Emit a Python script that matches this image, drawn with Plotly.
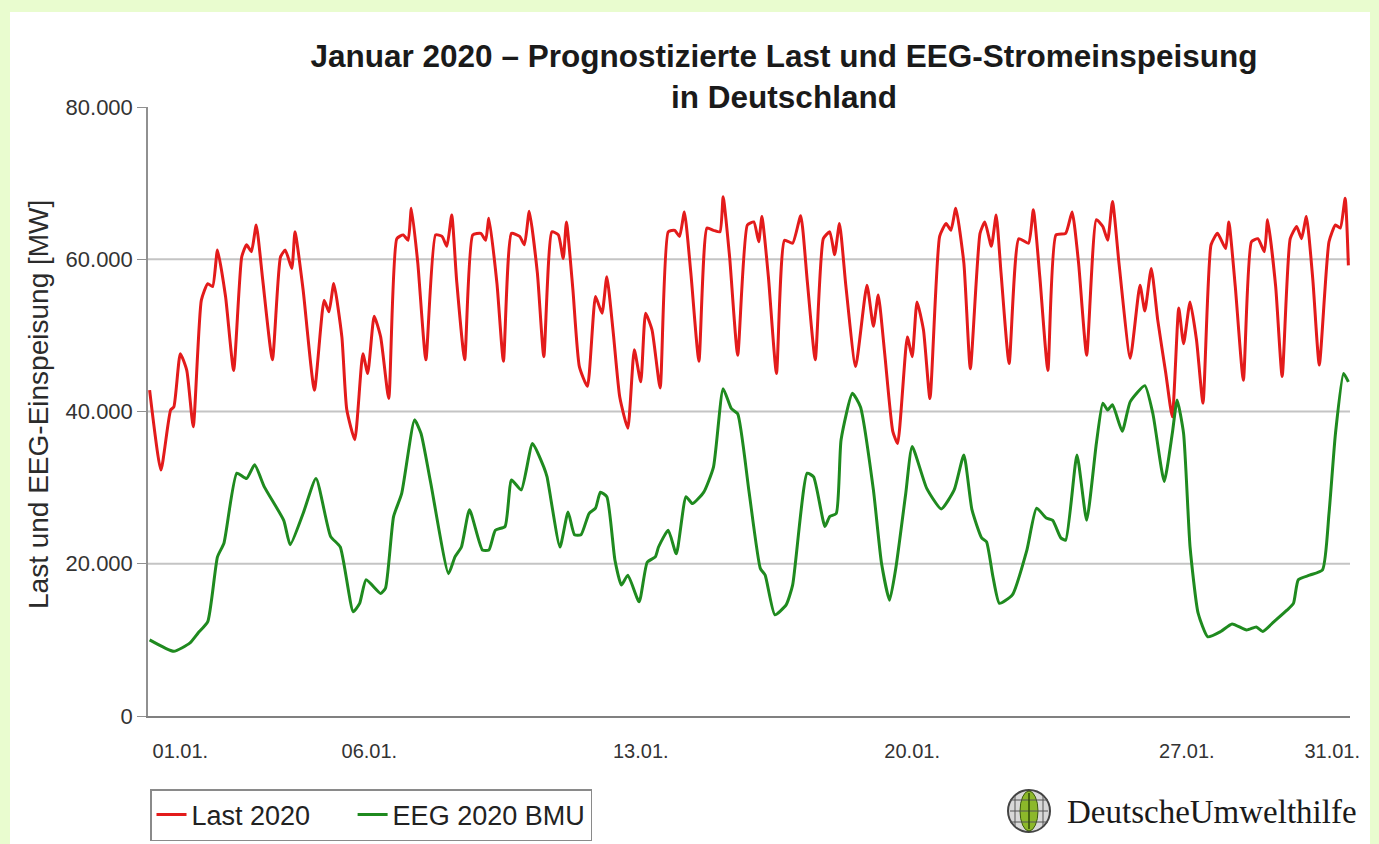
import plotly.graph_objects as go

# ---- data (hours since 01.01. 00:00, values in MW) ----
last_hours = [1, 8, 14, 16, 20, 24, 28, 33, 37, 40, 43, 48, 53, 58, 61, 64, 67, 71, 77, 82, 85, 89, 91, 96,
              103, 109, 112, 115, 120, 123, 128, 133, 136, 140, 144, 149, 154, 158, 161, 163, 167, 172,
              178, 182, 185, 188, 191, 196, 201, 206, 209, 211, 216, 220, 225, 230, 233, 236, 241, 245,
              250, 254, 257, 259, 263, 267, 272, 277, 281, 284, 288, 292, 297, 301, 305, 308, 312, 317,
              322, 326, 329, 332, 336, 341, 346, 350, 354, 356, 360, 365, 371, 375, 378, 380, 384, 389,
              394, 399, 404, 408, 413, 418, 422, 425, 428, 432, 438, 445, 449, 452, 456, 461, 464, 470,
              473, 476, 480, 484, 490, 494, 497, 500, 505, 509, 515, 518, 522, 525, 528, 533, 539, 545,
              548, 552, 557, 562, 568, 572, 576, 581, 587, 591, 594, 597, 601, 608, 614, 617, 621, 625,
              630, 634, 638, 641, 645, 649, 653, 658, 662, 667, 669, 673, 678, 683, 687, 691, 693, 698,
              702, 707, 711, 714, 717, 721, 725, 731, 735, 738, 741, 743]
last_mw = [42800, 32300, 40200, 40600, 47600, 45400, 38000, 54600, 56800, 56400, 61200, 55100, 45400, 60300,
           61900, 61000, 64500, 57300, 46800, 60300, 61200, 58800, 63600, 56000, 42800, 54600, 53100, 56800,
           49800, 40300, 36300, 47600, 45000, 52500, 49800, 41700, 62700, 63200, 62500, 66700, 59500, 46800,
           63200, 63000, 61700, 65800, 57300, 46800, 63200, 63400, 62500, 65400, 56800, 46600, 63400, 63000,
           61900, 66300, 58200, 47200, 63600, 63200, 60100, 64900, 56000, 45900, 43300, 55100, 52900, 57700,
           50300, 41900, 37800, 48100, 43900, 52900, 50700, 43100, 63600, 63800, 63000, 66200, 58200, 46600,
           64100, 63800, 63600, 68200, 60300, 47400, 64500, 64900, 62300, 65600, 57700, 45000, 62500, 62100,
           65700, 57300, 46800, 62700, 63600, 60600, 64700, 56400, 45900, 56600, 51200, 55300, 47600, 37400,
           35800, 49800, 47200, 54400, 50700, 41700, 63000, 64700, 63800, 66700, 59500, 45600, 63400, 64900,
           61700, 65800, 58200, 46300, 62700, 62100, 66500, 57700, 45400, 63200, 63400, 66200, 59500, 47400,
           65200, 64300, 62500, 67600, 59500, 47000, 56600, 53200, 58800, 52000, 45000, 39300, 53600, 48900,
           54400, 49400, 41100, 61900, 63400, 61400, 64900, 56400, 44100, 62300, 62700, 61000, 65200, 56400,
           44600, 62700, 64300, 62700, 65600, 57300, 46100, 62300, 64500, 64100, 68000, 59200]

eeg_hours = [1, 16, 26, 31, 37, 43, 47, 55, 61, 66, 72, 84, 88, 96, 104, 113, 119, 127, 131, 135, 144, 147,
             152, 157, 165, 169, 175, 186, 190, 194, 199, 207, 211, 215, 221, 225, 231, 238, 245, 247, 255,
             260, 264, 268, 273, 277, 280, 284, 289, 293, 297, 304, 309, 314, 316, 322, 327, 333, 337, 344,
             350, 356, 361, 365, 372, 379, 382, 388, 395, 399, 408, 412, 419, 422, 426, 429, 436, 441, 449,
             454, 459, 463, 469, 473, 482, 491, 499, 505, 510, 516, 519, 523, 527, 535, 544, 550, 556, 560,
             565, 568, 575, 581, 587, 591, 594, 597, 603, 608, 617, 622, 629, 634, 637, 641, 645, 650, 656,
             664, 671, 680, 686, 690, 697, 705, 709, 712, 719, 727, 731, 735, 740, 743]
eeg_mw = [10000, 8500, 9600, 10900, 12400, 20900, 22700, 31900, 31200, 33000, 30100, 25700, 22500, 26600,
          31200, 23600, 22200, 13700, 14800, 17900, 16100, 16800, 26200, 29200, 38900, 37100, 30600, 18700,
          20900, 22200, 27100, 21800, 21800, 24400, 24900, 31000, 29700, 35800, 32700, 31400, 22200, 26800,
          23800, 23800, 26600, 27300, 29400, 28800, 20500, 17200, 18500, 15000, 20200, 20900, 22200, 24400,
          21300, 28800, 27900, 29400, 32700, 43000, 40400, 39700, 29500, 19400, 18500, 13300, 14600, 17200,
          31900, 31400, 24900, 26200, 26600, 36300, 42400, 40600, 29700, 20100, 15200, 19600, 29200, 35400,
          29900, 27200, 29700, 34300, 27100, 23400, 22900, 18300, 14800, 15900, 21800, 27300, 26000, 25700,
          23400, 23100, 34300, 25700, 35800, 41100, 40200, 40900, 37400, 41300, 43400, 39700, 30800, 37100,
          41500, 37100, 22200, 13500, 10400, 11100, 12100, 11300, 11700, 11100, 12400, 13900, 14800, 17900,
          18500, 19200, 26600, 37100, 45000, 43900]

series_names = ["Last 2020", "EEG 2020 BMU"]
tick_labels = ["01.01.", "06.01.", "13.01.", "20.01.", "27.01.", "31.01."]
tick_hours = [20, 137, 305, 473, 643, 733]
y_ticks = [0, 20000, 40000, 60000, 80000]

title_text = "Januar 2020 – Prognostizierte Last und EEG-Stromeinspeisung<br>in Deutschland"
y_title = "Last und EEG-Einspeisung [MW]"
logo_text = "DeutscheUmwelthilfe"

# ---- figure ----
W, H = 1379, 844
L, R, T, B = 148, 29, 107, 128
pw, ph = W - L - R, H - T - B
BG = "#e9fccf"
NBSP = "\u00a0"


def px(x):
    return (x - L) / pw


def py(y):
    return (H - B - y) / ph


FONT = "Liberation Sans, Arial, sans-serif"

fig = go.Figure()
fig.add_trace(go.Scatter(x=last_hours, y=last_mw, mode="lines", name=series_names[0] + NBSP * 5,
                         line=dict(color="#e31b1b", width=3, shape="spline", smoothing=0.5)))
fig.add_trace(go.Scatter(x=eeg_hours, y=eeg_mw, mode="lines", name=series_names[1],
                         line=dict(color="#1f8a1f", width=3, shape="spline", smoothing=0.5)))

shapes = [
    dict(type="rect", xref="paper", yref="paper", x0=px(10), x1=px(1370), y0=py(870), y1=py(12),
         fillcolor="white", line=dict(width=0), layer="below"),
]
for v in y_ticks[1:-1]:
    shapes.append(dict(type="line", xref="paper", yref="y", x0=0, x1=1, y0=v, y1=v,
                       line=dict(color="#c4c4c4", width=2), layer="below"))
# logo globe
cx, cy, r = 1029, 811, 21
shapes.append(dict(type="circle", xref="paper", yref="paper", x0=px(cx - r), x1=px(cx + r),
                   y0=py(cy + r), y1=py(cy - r), fillcolor="#d8d8d8", line=dict(color="#444", width=2)))
shapes.append(dict(type="circle", xref="paper", yref="paper", x0=px(cx - 9), x1=px(cx + 9),
                   y0=py(cy + 20), y1=py(cy - 20), fillcolor="#8cb82a", line=dict(color="#3d5a10", width=1)))
for dy in (-11, 0, 11):
    shapes.append(dict(type="line", xref="paper", yref="paper", x0=px(cx - 19), x1=px(cx + 19),
                       y0=py(cy + dy), y1=py(cy + dy), line=dict(color="#555", width=1)))
for dx in (-14, 14):
    shapes.append(dict(type="line", xref="paper", yref="paper", x0=px(cx + dx), x1=px(cx + dx),
                       y0=py(cy - 15), y1=py(cy + 15), line=dict(color="#555", width=1)))
shapes.append(dict(type="line", xref="paper", yref="paper", x0=px(cx), x1=px(cx),
                   y0=py(cy - 18), y1=py(cy + 18), line=dict(color="#2f4a08", width=1.5)))

fig.update_layout(
    width=W, height=H,
    margin=dict(l=L, r=R, t=T, b=B, pad=0, autoexpand=False),
    paper_bgcolor=BG,
    plot_bgcolor="white",
    separators=",.",
    font=dict(family=FONT, color="#2b2b2b"),
    title=dict(text="<b>" + title_text + "</b>", x=784 / W, xanchor="center", y=1 - 67 / H, yanchor="top",
               font=dict(size=31.5, color="#1a1a1a", family=FONT)),
    xaxis=dict(range=[0, 744], showgrid=False, zeroline=False, showline=True, linecolor="#808080",
               linewidth=2, tickmode="array", tickvals=tick_hours, ticktext=tick_labels, ticks="",
               tickfont=dict(size=20, color="#333"), ticklabelstandoff=16),
    yaxis=dict(range=[0, 80000], showgrid=False, zeroline=False, showline=True, linecolor="#909090",
               linewidth=1.5, tickmode="array", tickvals=y_ticks, tickformat=",d", ticks="outside",
               ticklen=9, tickcolor="#909090", tickfont=dict(size=22, color="#333")),
    showlegend=True,
    legend=dict(orientation="h", xref="container", yref="container", x=150 / W, xanchor="left",
                y=1 - 789 / H, yanchor="top",
                bgcolor="white", bordercolor="#8a8a8a", borderwidth=1.5,
                font=dict(size=27, color="#222", family=FONT), itemwidth=30, tracegroupgap=0),
    shapes=shapes,
    annotations=[
        dict(text=y_title, xref="paper", yref="paper", x=px(38), y=py(405), textangle=-90,
             showarrow=False, xanchor="center", yanchor="middle",
             font=dict(size=28, color="#2b2b2b", family=FONT)),
        dict(text=logo_text, xref="paper", yref="paper", x=px(1065), y=py(812), showarrow=False,
             xanchor="left", yanchor="middle",
             font=dict(size=33, color="#1a1a1a", family="Liberation Serif, Times New Roman, serif")),
    ],
)

fig.write_html(
    "out.html",
    config={"displayModeBar": False},
    post_script="document.body.style.margin='0px';document.body.style.padding='0px';"
                "document.body.style.background='" + BG + "';",
)
